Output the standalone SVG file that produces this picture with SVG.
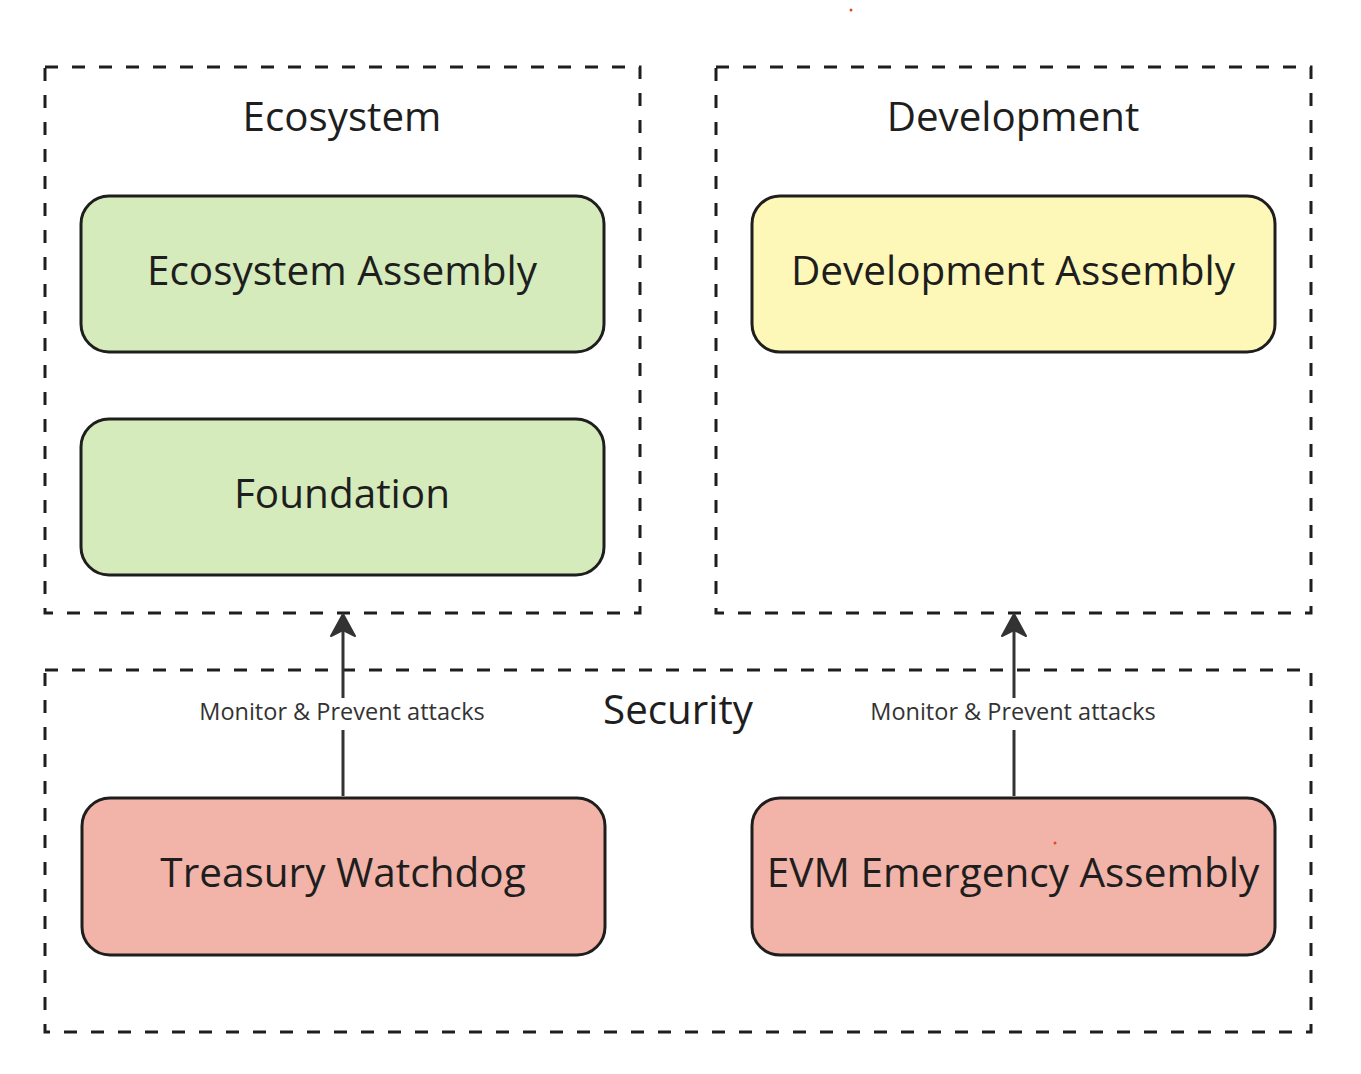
<svg xmlns="http://www.w3.org/2000/svg" width="1361" height="1074" viewBox="0 0 1361 1074">
<style>
.grp{fill:none;stroke:#1e1e1e;stroke-width:3;stroke-dasharray:13 14}
.node{stroke:#1e1e1e;stroke-width:3}
.t{font-family:"Open Sans","Noto Sans",sans-serif;fill:#1e1e1e;text-anchor:middle}
.big{font-size:40.5px}
.title{font-size:40.3px}
.lbl{font-family:"Open Sans","Noto Sans",sans-serif;font-size:23.5px;fill:#333;text-anchor:middle}
.edge{stroke:#333;stroke-width:3;fill:none}
</style>
<rect width="1361" height="1074" fill="#fff"/>
<g id="ecosystem-group">
<rect class="grp" x="45" y="67" width="595" height="546"/>
<text class="t title" x="342" y="131">Ecosystem</text>
</g>
<g id="development-group">
<rect class="grp" x="716" y="67" width="595" height="546"/>
<text class="t title" x="1013" y="131">Development</text>
</g>
<g id="security-group">
<rect class="grp" x="45" y="670" width="1266" height="362"/>
<text class="t title" x="678" y="724">Security</text>
</g>
<g id="ecosystem-assembly">
<rect class="node" x="81" y="196" width="523" height="156" rx="28" fill="#d6ebbb"/>
<text class="t big" x="342" y="285">Ecosystem Assembly</text>
</g>
<g id="foundation">
<rect class="node" x="81" y="419" width="523" height="156" rx="28" fill="#d6ebbb"/>
<text class="t big" x="342" y="508">Foundation</text>
</g>
<g id="development-assembly">
<rect class="node" x="752" y="196" width="523" height="156" rx="28" fill="#fef8b8"/>
<text class="t big" x="1013" y="285">Development Assembly</text>
</g>
<g id="treasury-watchdog">
<rect class="node" x="82" y="798" width="523" height="157" rx="28" fill="#f2b3a8"/>
<text class="t big" x="343" y="887">Treasury Watchdog</text>
</g>
<g id="evm-emergency-assembly">
<rect class="node" x="752" y="798" width="523" height="157" rx="28" fill="#f2b3a8"/>
<text class="t big" x="1013" y="887">EVM Emergency Assembly</text>
</g>
<g id="connectors">
<line class="edge" x1="343" y1="796" x2="343" y2="730"/>
<line class="edge" x1="343" y1="698" x2="343" y2="630"/>
<path d="M343 614 L331 636 L343 630 L355 636 Z" fill="#333" stroke="#333" stroke-width="2" stroke-linejoin="round"/>
<text class="lbl" x="342" y="720">Monitor &amp; Prevent attacks</text>
<line class="edge" x1="1014" y1="796" x2="1014" y2="730"/>
<line class="edge" x1="1014" y1="698" x2="1014" y2="630"/>
<path d="M1014 614 L1002 636 L1014 630 L1026 636 Z" fill="#333" stroke="#333" stroke-width="2" stroke-linejoin="round"/>
<text class="lbl" x="1013" y="720">Monitor &amp; Prevent attacks</text>
</g>
<circle cx="851" cy="10" r="1.5" fill="#e8482a"/>
<circle cx="1055" cy="843" r="1.5" fill="#e8482a"/>
</svg>
